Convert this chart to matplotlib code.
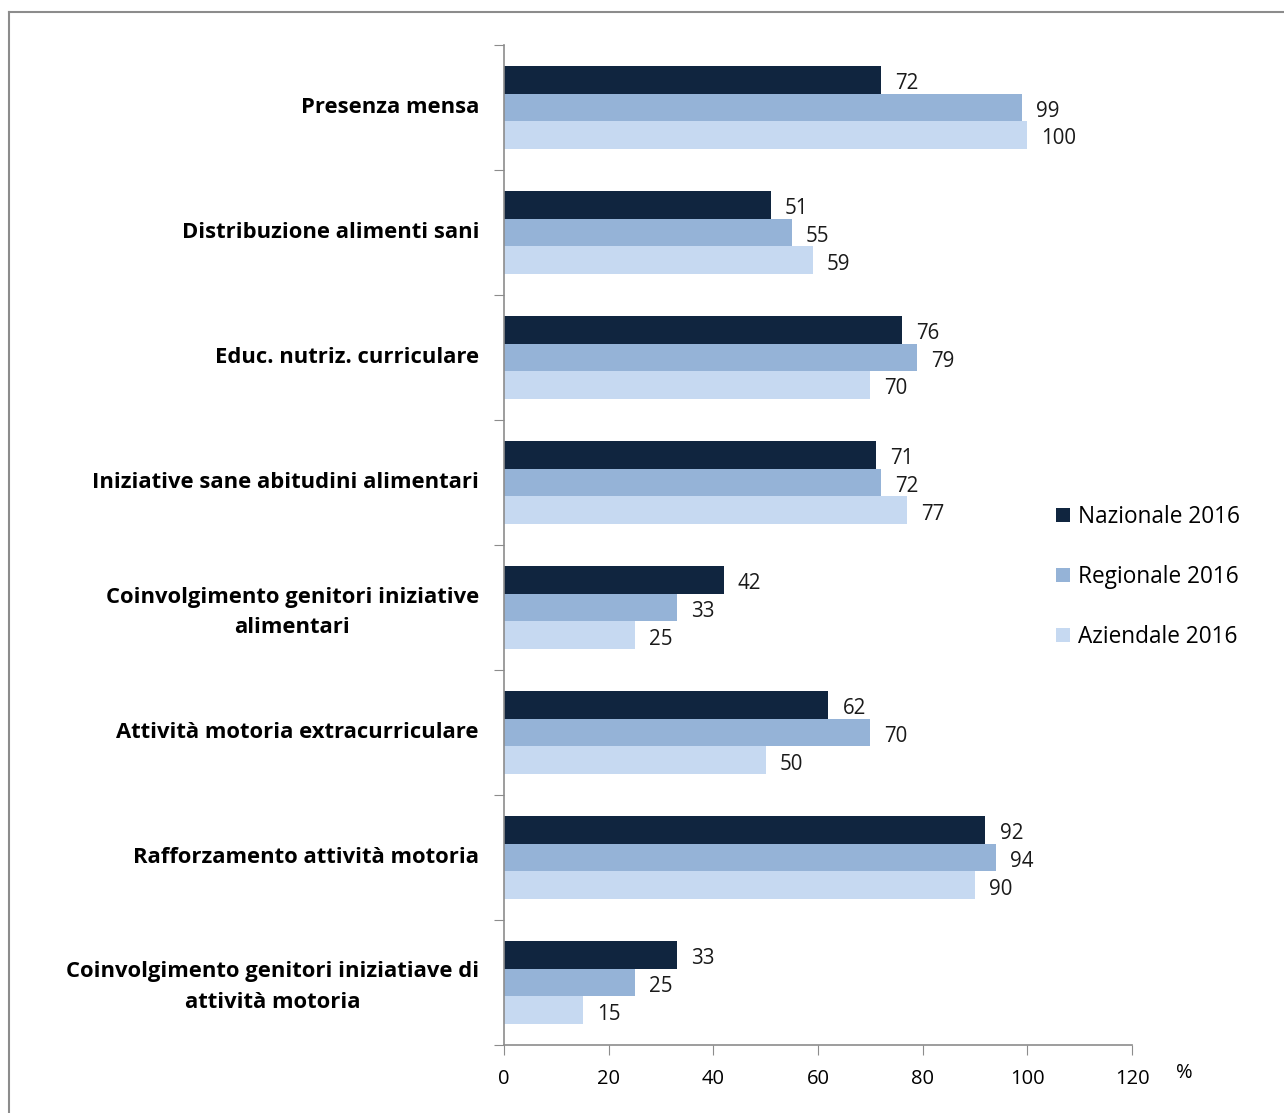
import numpy as np
import matplotlib
matplotlib.use('Agg')
import matplotlib.pyplot as plt
from matplotlib.lines import Line2D

plt.rcParams['font.family'] = ['Open Sans', 'DejaVu Sans']

categories = ['Presenza mensa',
              'Distribuzione alimenti sani',
              'Educ. nutriz. curriculare',
              'Iniziative sane abitudini alimentari',
              'Coinvolgimento genitori iniziative\nalimentari',
              'Attività motoria extracurriculare',
              'Rafforzamento attività motoria',
              'Coinvolgimento genitori iniziatiave di\nattività motoria']
nazionale = [72, 51, 76, 71, 42, 62, 92, 33]
regionale = [99, 55, 79, 72, 33, 70, 94, 25]
aziendale = [100, 59, 70, 77, 25, 50, 90, 15]
series_names = ['Nazionale 2016', 'Regionale 2016', 'Aziendale 2016']
colors = ['#10253F', '#95B3D7', '#C6D9F1']
xticks = [0, 20, 40, 60, 80, 100, 120]

fig = plt.figure(figsize=(12.84, 11.13), dpi=100)
ax = fig.add_axes([504/1284, 1-1045/1113, 628/1284, 1000/1113])

# frame lines of the outer box (top and left only visible)
fig.add_artist(Line2D([9/1284, 1], [1-12/1113, 1-12/1113], color='#8c8c8c', lw=1.5, transform=fig.transFigure))
fig.add_artist(Line2D([9/1284, 9/1284], [0, 1-12/1113], color='#8c8c8c', lw=1.5, transform=fig.transFigure))

n = len(categories)
ypos = np.arange(n)
h = 0.222
for k, vals in enumerate([nazionale, regionale, aziendale]):
    y = ypos + (k - 1) * h
    ax.barh(y, vals, height=h, color=colors[k], label=series_names[k])
    for yy, v in zip(y, vals):
        ax.text(v + 2.7, yy + 0.03, str(v), va='center', ha='left', fontsize=14.8, color='#1a1a1a')

ax.set_ylim(n - 0.5, -0.5)
ax.set_xlim(0, 120)
ax.set_xticks(xticks)
ax.set_xticklabels([str(t) for t in xticks], fontsize=14.5)
ax.set_yticks(np.arange(-0.5, n, 1.0))
ax.set_yticklabels([])
ax.set_yticks(ypos - 0.02, minor=True)
ax.set_yticklabels(categories, minor=True, fontsize=15.8, fontweight='bold',
                   multialignment='center', linespacing=1.6)
ax.tick_params(axis='y', which='minor', length=0, pad=18)
ax.tick_params(axis='y', which='major', length=7, color='#8c8c8c', direction='out')
ax.tick_params(axis='x', length=7, color='#8c8c8c', direction='out', pad=10)

for s in ['top', 'right']:
    ax.spines[s].set_visible(False)
for s in ['left', 'bottom']:
    ax.spines[s].set_color('#8c8c8c')
    ax.spines[s].set_linewidth(1.2)

fig.text(1184/1284, 1-1073/1113, '%', ha='center', va='center', fontsize=14.5)

fig.legend(*ax.get_legend_handles_labels(), loc='center left',
           bbox_to_anchor=(1056/1284, 1-577/1113), frameon=False, fontsize=16.3,
           handlelength=0.6, handleheight=0.6, handletextpad=0.35, labelspacing=1.58,
           borderaxespad=0, borderpad=0)

fig.savefig('out.png', dpi=100)
